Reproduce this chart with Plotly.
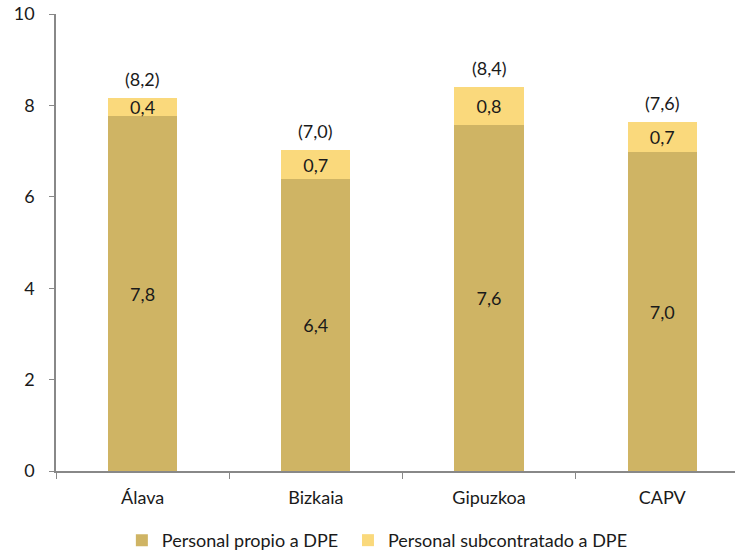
import plotly.graph_objects as go

categories = ["Álava", "Bizkaia", "Gipuzkoa", "CAPV"]
propio = [7.76, 6.38, 7.58, 6.97]
subcontratado = [0.41, 0.65, 0.83, 0.67]
series_names = ["Personal propio a DPE", "Personal subcontratado a DPE"]
y_ticks = [0, 2, 4, 6, 8, 10]

def es(v):
    return f"{v:.1f}".replace(".", ",")

totals = [round(p + s, 2) for p, s in zip(propio, subcontratado)]

FONT = "Lato"
FS = 18
TXT = "#1a1a1a"
fig = go.Figure()
fig.add_trace(go.Bar(
    x=categories, y=propio, name=series_names[0], legend="legend",
    marker=dict(color="#CFB464", line=dict(width=0)),
    text=[es(v) for v in propio], textposition="inside", insidetextanchor="middle",
    constraintext="none",
    textfont=dict(family=FONT, size=FS, color=TXT), width=0.4,
))
fig.add_trace(go.Bar(
    x=categories, y=subcontratado, name=series_names[1], legend="legend2",
    marker=dict(color="#FAD97C", line=dict(width=0)),
    text=[es(v) for v in subcontratado], textposition="inside", insidetextanchor="middle",
    constraintext="none",
    textfont=dict(family=FONT, size=FS, color=TXT), width=0.4,
))
for c, t in zip(categories, totals):
    fig.add_annotation(x=c, y=t, text=f"({es(t)})", showarrow=False,
                       yanchor="bottom", yshift=6,
                       font=dict(family=FONT, size=FS, color=TXT))

leg_common = dict(orientation="h", yanchor="middle", y=-0.152,
                  font=dict(family=FONT, size=FS, color=TXT), itemwidth=30,
                  bgcolor="rgba(0,0,0,0)")
fig.update_layout(
    width=735, height=550, barmode="stack",
    plot_bgcolor="white", paper_bgcolor="white",
    margin=dict(l=56, r=0, t=14, b=79, autoexpand=False),
    font=dict(family=FONT, size=FS, color=TXT),
    legend=dict(x=0.097, xanchor="left", **leg_common),
    legend2=dict(x=0.430, xanchor="left", **leg_common),
    showlegend=True,
)
fig.update_xaxes(range=[-0.5, 3.42], showline=True, linecolor="#888888", linewidth=1.5,
                 ticks="outside", tickson="boundaries", ticklen=6, tickcolor="#888888",
                 ticklabelstandoff=10, showgrid=False, automargin=False,
                 ticklabeloverflow="allow",
                 tickfont=dict(family=FONT, size=FS, color=TXT))
fig.update_yaxes(range=[0, 10], tickvals=y_ticks, showline=True, linecolor="#888888", linewidth=1.5,
                 ticks="outside", ticklen=5, tickcolor="#888888", ticklabelstandoff=11,
                 showgrid=False, zeroline=False, automargin=False,
                 ticklabeloverflow="allow",
                 tickfont=dict(family=FONT, size=FS, color=TXT))
fig.write_html("out.html", config={"displayModeBar": False},
               post_script="document.body.style.margin='0';document.body.style.overflow='hidden';")
